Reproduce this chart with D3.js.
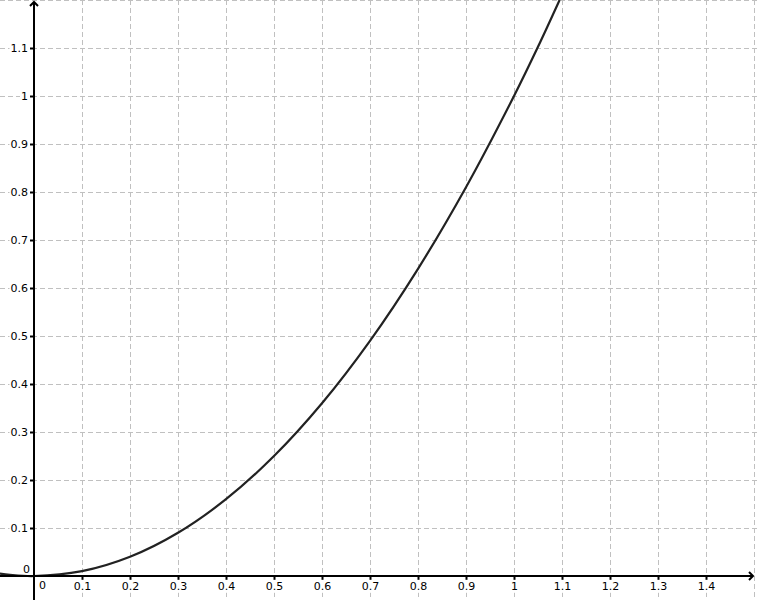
<!DOCTYPE html>
<html>
<head>
<meta charset="utf-8">
<script src="https://cdn.jsdelivr.net/npm/d3@7"></script>
<style>
  html, body { margin: 0; padding: 0; background: #fff; }
  svg { display: block; }
  text { font-family: "DejaVu Sans", sans-serif; font-size: 11px; fill: #000; }
</style>
</head>
<body>
<svg id="chart" width="758" height="600"></svg>
<script>
// ---- data ----
const curveX = [-0.071, -0.05, 0, 0.1, 0.2, 0.3, 0.4, 0.5, 0.6, 0.7, 0.8, 0.9, 1.0, 1.05, 1.095];
const curveY = [0.005, 0.0025, 0, 0.01, 0.04, 0.09, 0.16, 0.25, 0.36, 0.49, 0.64, 0.81, 1.0, 1.1025, 1.2];
const xTicks = [0.1, 0.2, 0.3, 0.4, 0.5, 0.6, 0.7, 0.8, 0.9, 1, 1.1, 1.2, 1.3, 1.4];
const yTicks = [0.1, 0.2, 0.3, 0.4, 0.5, 0.6, 0.7, 0.8, 0.9, 1, 1.1];
const xGrid = [0.1, 0.2, 0.3, 0.4, 0.5, 0.6, 0.7, 0.8, 0.9, 1, 1.1, 1.2, 1.3, 1.4, 1.5];
const yGrid = [0.1, 0.2, 0.3, 0.4, 0.5, 0.6, 0.7, 0.8, 0.9, 1, 1.1, 1.2];

const W = 758, H = 600;
const unit = 480; // pixels per unit
const ox = 34, oy = 576;
const x = d3.scaleLinear().domain([-ox / unit, (W - ox) / unit]).range([0, W]);
const y = d3.scaleLinear().domain([-(H - oy) / unit, oy / unit]).range([H, 0]);

const svg = d3.select("#chart");

svg.append("defs").append("clipPath").attr("id", "clip")
  .append("rect").attr("x", 0).attr("y", 0).attr("width", W).attr("height", H);

// grid
const grid = svg.append("g").attr("stroke", "#c0c0c0").attr("stroke-width", 1)
  .attr("stroke-dasharray", "5,3").attr("fill", "none");
grid.selectAll("line.v").data(xGrid).join("line").attr("class", "v")
  .attr("x1", d => Math.round(x(d)) + 0.5).attr("x2", d => Math.round(x(d)) + 0.5)
  .attr("y1", 0).attr("y2", H);
grid.selectAll("line.h").data(yGrid).join("line").attr("class", "h")
  .attr("y1", d => Math.round(y(d)) + 0.5).attr("y2", d => Math.round(y(d)) + 0.5)
  .attr("x1", 0).attr("x2", W);

// curve
const pts = curveX.map((v, i) => [v, curveY[i]]);
svg.append("path").datum(pts)
  .attr("clip-path", "url(#clip)")
  .attr("fill", "none").attr("stroke", "#222").attr("stroke-width", 2.2)
  .attr("d", d3.line().x(d => x(d[0])).y(d => y(d[1])).curve(d3.curveCatmullRom.alpha(0.5)));

function addBg(sel) {
  sel.each(function () {
    const b = this.getBBox();
    d3.select(this.parentNode).insert("rect", "text")
      .attr("x", b.x - 1).attr("y", b.y)
      .attr("width", b.width + 2).attr("height", b.height)
      .attr("fill", "#fff");
  });
}

// axes
const xAxis = d3.axisBottom(x).tickValues(xTicks).tickSize(4).tickPadding(2)
  .tickFormat(d3.format("~g"));
const gx = svg.append("g").attr("transform", `translate(0,${oy})`).call(xAxis);
gx.select(".domain").remove();
gx.selectAll(".tick line").attr("stroke", "#000").attr("stroke-width", 2);
gx.selectAll(".tick text").style("font-family", "DejaVu Sans, sans-serif").style("font-size", "11px");
addBg(gx.selectAll(".tick text"));

const yAxis = d3.axisLeft(y).tickValues(yTicks).tickSize(4).tickPadding(2)
  .tickFormat(d3.format("~g"));
const gy = svg.append("g").attr("transform", `translate(${ox},0)`).call(yAxis);
gy.select(".domain").remove();
gy.selectAll(".tick line").attr("stroke", "#000").attr("stroke-width", 2);
gy.selectAll(".tick text").style("font-family", "DejaVu Sans, sans-serif").style("font-size", "11px");
addBg(gy.selectAll(".tick text"));

// axis lines with arrows
const axisG = svg.append("g").attr("stroke", "#000").attr("stroke-width", 2).attr("fill", "none");
axisG.append("line").attr("x1", 0).attr("x2", x(1.5) - 1).attr("y1", oy).attr("y2", oy);
axisG.append("line").attr("x1", ox).attr("x2", ox).attr("y1", H).attr("y2", 2);
axisG.append("path").attr("stroke-linejoin", "miter")
  .attr("d", `M${x(1.5) - 5},${oy - 4}L${x(1.5) - 1},${oy}L${x(1.5) - 5},${oy + 4}`);
axisG.append("path").attr("stroke-linejoin", "miter")
  .attr("d", `M${ox - 4},6L${ox},2L${ox + 4},6`);

// origin labels
svg.append("text").attr("x", x(0) + 5).attr("y", oy + 13).text("0");
svg.append("text").attr("x", x(0) - 4).attr("y", oy - 3).attr("text-anchor", "end").text("0");
</script>
</body>
</html>
